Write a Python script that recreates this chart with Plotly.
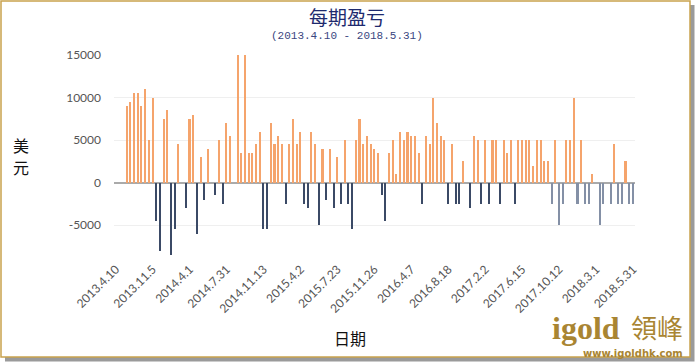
import plotly.graph_objects as go

# ---- data ----
tick_labels = ["2013.4.10", "2013.11.5", "2014.4.1", "2014.7.31", "2014.11.13",
               "2015.4.2", "2015.7.23", "2015.11.26", "2016.4.7", "2016.8.18",
               "2017.2.2", "2017.6.15", "2017.10.12", "2018.3.1", "2018.5.31"]

pnl = [0, 0, 0, 9000, 9500, 10500, 10500, 9000, 11000, 5000,
       10000, -4500, -8000, 7500, 8500, -8500, -5500, 4500, 0, -3000,
       7500, 8000, -6000, 3000, -2000, 4000, 0, -1500, 5000, -2500,
       7000, 5500, 0, 15000, 3500, 15000, 3500, 3500, 4500, 6000,
       -5500, -5500, 7000, 4500, 5500, 4500, -2500, 4500, 7500, 4500,
       6000, -2500, -3000, 6000, 4500, -5000, 4000, -2000, 4000, -3000,
       3000, -2500, 5000, -2500, -5500, 5000, 7500, 4500, 5500, 4500,
       4000, 3500, -1500, -4500, 3500, 5000, 1000, 6000, 5000, 6000,
       5500, 5500, 3500, -2500, 5500, 4500, 10000, 7000, 5500, 5000,
       -2500, 4500, -2500, -2500, 2500, 0, -3000, 5500, 5000, -2500,
       5000, -2500, 5000, 5000, -2500, 5000, 3500, 5000, -2500, 5000,
       5000, 5000, 5000, 2000, 5000, 5000, 2500, 2500, -2500, 5000,
       -5000, -2500, 5000, 5000, 10000, -2500, 5000, -2500, -2500, 1000,
       0, -5000, -2500, 0, -2500, 4500, -2500, -2500, 2500, -2500,
       -2500]

y_ticks = [-5000, 0, 5000, 10000, 15000]
y_tick_labels = ["-5000", "0", "5000", "10000", "15000"]

# ---- styling ----
ORANGE = "#F5A46C"
NAVY = "#3B4A66"
SLATE = "#8490A6"
LATE_START = 118  # later losses drawn lighter

idx = list(range(len(pnl)))
colors = []
for i, v in zip(idx, pnl):
    if v >= 0:
        colors.append(ORANGE)
    elif i >= LATE_START:
        colors.append(SLATE)
    else:
        colors.append(NAVY)

fig = go.Figure()
fig.add_trace(go.Bar(x=idx, y=pnl, marker=dict(color=colors, line=dict(width=0)),
                     width=0.42, hoverinfo="x+y"))

L, R, T, B = 114, 60, 55, 103
W, H = 695, 362
pw, ph = W - L - R, H - T - B

def px(x):
    return (x - L) / pw

def py(y):
    return (H - B - y) / ph

shapes = [
    dict(type="rect", xref="paper", yref="paper", x0=px(5), x1=px(694.5), y0=py(361.5), y1=py(5),
         fillcolor="#9a9a9a", line=dict(width=0), layer="below"),
    dict(type="rect", xref="paper", yref="paper", x0=px(1), x1=px(690), y0=py(357), y1=py(1),
         fillcolor="white", line=dict(color="#C9A24E", width=1.5), layer="below"),
]

def note(text, x, y, family, size, color, xanchor="center", yanchor="middle"):
    return dict(text=text, x=px(x), y=py(y), xref="paper", yref="paper", showarrow=False,
                font=dict(family=family, size=size, color=color), xanchor=xanchor, yanchor=yanchor,
                borderpad=0)

ann = [
    note("每期盈亏", 347, 16, "Noto Sans CJK SC", 19, "#1E2A6E"),
    note("(2013.4.10 - 2018.5.31)", 347, 36, "Liberation Mono", 11, "#3A4680"),
    note("美", 21, 145, "Noto Sans CJK SC", 16, "#111"),
    note("元", 21, 167, "Noto Sans CJK SC", 16, "#111"),
    note("日期", 350, 338, "Noto Sans CJK SC", 16, "#111"),
    note("<b>igold</b>", 551, 347, "Liberation Serif", 32, "#A98532", "left", "bottom"),
    note("領峰", 684, 346, "Noto Sans CJK TC", 26, "#A98532", "right", "bottom"),
    note("<b>www.igoldhk.com</b>", 684, 347, "DejaVu Sans", 10, "#A98532", "right", "top"),
]

fig.update_layout(
    width=W, height=H,
    margin=dict(l=L, r=R, t=T, b=B),
    paper_bgcolor="white", plot_bgcolor="rgba(0,0,0,0)",
    showlegend=False,
    bargap=0,
    shapes=shapes, annotations=ann,
    xaxis=dict(range=[-0.5, len(pnl) - 0.5], tickmode="array",
               tickvals=[i * 10 for i in range(len(tick_labels))], ticktext=tick_labels,
               tickangle=-45, showgrid=False, zeroline=False, showline=False, ticks="",
               tickfont=dict(family="Lato", size=12, color="#555")),
    yaxis=dict(range=[-9000, 15000], tickmode="array", tickvals=y_ticks, ticktext=y_tick_labels,
               showgrid=True, gridcolor="#efefef", gridwidth=1,
               zeroline=True, zerolinecolor="#aaaaaa", zerolinewidth=1.5,
               showline=False, ticks="", ticklabelstandoff=12,
               tickfont=dict(family="Lato", size=12, color="#555")),
)

fig.write_html("out.html", config={"displayModeBar": False},
               post_script="document.body.style.margin='0';document.body.style.overflow='hidden';")
